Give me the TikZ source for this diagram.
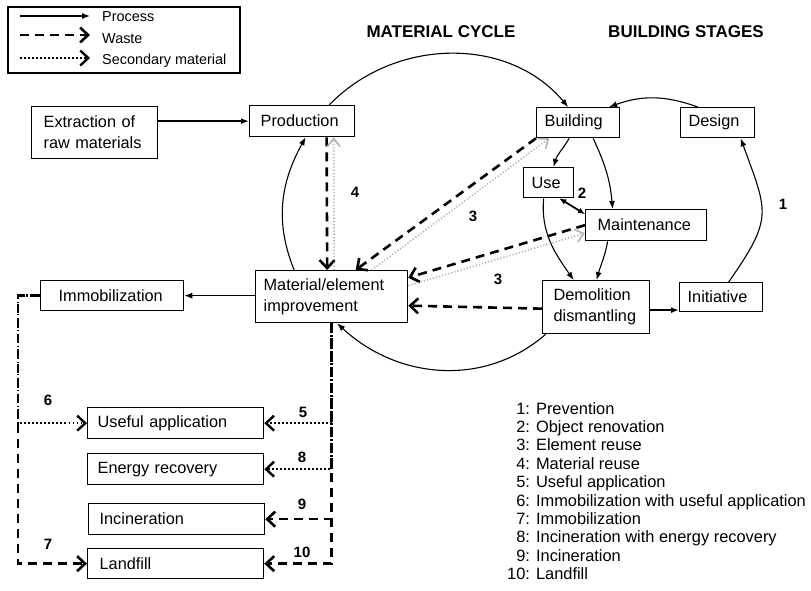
\documentclass[tikz,border=0pt]{standalone}
\usepackage{fontspec}
\setmainfont{Liberation Sans}
\usetikzlibrary{arrows.meta}

\newcommand{\boxfont}{\fontsize{16.3}{21}\selectfont}
\newcommand{\numfont}{\fontsize{15}{18}\selectfont\bfseries}

\tikzset{
  box/.style={draw, line width=1.3pt, anchor=north west, inner ysep=0pt,
    inner xsep=9pt, align=left, font=\boxfont},
  process/.style={line width=1.1pt, -{Latex[length=8pt,width=6pt]}},
  waste/.style={line width=2.6pt, dash pattern=on 9pt off 6pt,
    -{Straight Barb[length=8pt,width=15pt]}},
  secondary/.style={line width=2.4pt, dash pattern=on 1.6pt off 2.4pt,
    -{Straight Barb[length=8pt,width=15pt]}},
  lightsec/.style={line width=1.6pt, black!30, dash pattern=on 1.2pt off 2pt,
    -{Straight Barb[length=8pt,width=13pt]}},
  number/.style={font=\numfont, inner sep=0pt},
  legendtext/.style={anchor=west, inner sep=0pt, font=\fontsize{14.4}{16}\selectfont},
}

\begin{document}
\begin{tikzpicture}[x=1pt, y=-1pt]
  \useasboundingbox (0,0) rectangle (811,590);

  % legend
  \draw[line width=1.2pt] (8,7) rectangle (240,73);
  \node[legendtext] (lgproc) at (102,17) {Process};
  \node[legendtext] (lgwaste) at (102,39) {Waste};
  \node[legendtext] (lgsec) at (102,61) {Secondary material};
  \draw[process] ([xshift=-82pt,yshift=1pt]lgproc.west) -- ([xshift=-12pt,yshift=1pt]lgproc.west);
  \draw[waste] ([xshift=-82pt,yshift=4pt]lgwaste.west) -- ([xshift=-12pt,yshift=4pt]lgwaste.west);
  \draw[secondary] ([xshift=-82pt,yshift=3pt]lgsec.west) -- ([xshift=-12pt,yshift=3pt]lgsec.west);

  % titles
  \node[font=\fontsize{17}{20}\selectfont\bfseries] (tmat) at (441,32) {MATERIAL CYCLE};
  \node[font=\fontsize{17}{20}\selectfont\bfseries] (tbuild) at (686,32) {BUILDING STAGES};

  % material cycle
  \node[box, text width=102pt, minimum height=52pt, inner xsep=12pt] (extr) at (31,106) {Extraction of\\raw materials};
  \node[box, text width=83pt, minimum height=31pt, inner xsep=11pt] (prod) at (249,105) {Production};
  \node[box, text width=136pt, minimum height=52pt, inner xsep=8pt] (matimp) at (255,270) {Material/element\\improvement};
  \node[box, text width=107pt, minimum height=30pt, inner xsep=18pt] (immob) at (40,280) {Immobilization};

  % building stages
  \node[box, text width=67pt, minimum height=30pt, inner xsep=8pt] (build) at (536,107) {Building};
  \node[box, text width=58pt, minimum height=30pt, inner xsep=8pt] (design) at (680,107) {Design};
  \node[box, text width=34pt, minimum height=30pt, inner xsep=8pt] (use) at (523,167) {Use};
  \node[box, text width=97pt, minimum height=31pt, inner xsep=12pt] (maint) at (585,209) {Maintenance};
  \node[box, text width=85pt, minimum height=53pt, inner xsep=11pt] (demol) at (542,280) {Demolition\\dismantling};
  \node[box, text width=67pt, minimum height=29pt, inner xsep=8pt] (init) at (679,282) {Initiative};

  % end of life
  \node[box, text width=156pt, minimum height=31pt, inner xsep=10pt] (useful) at (87,407) {Useful application};
  \node[box, text width=156pt, minimum height=31pt, inner xsep=10pt] (energy) at (87,453) {Energy recovery};
  \node[box, text width=154pt, minimum height=31pt, inner xsep=11pt] (incin) at (88,503) {Incineration};
  \node[box, text width=152pt, minimum height=30pt, inner xsep=12pt] (landfill) at (87,548) {Landfill};

  % process flows
  \draw[process, line width=2pt] ([yshift=11.5pt]extr.east) -- (prod.west);
  \draw[process] ([xshift=27pt]prod.north) to[out=46, in=130] ([xshift=-10pt]build.north);
  \draw[process] ([xshift=-37.5pt]matimp.north) to[out=112, in=241] ([xshift=3.5pt]prod.south);
  \draw[process] ([xshift=-50.5pt]demol.south) to[out=221, in=-43] ([xshift=5.5pt]matimp.south);
  \draw[process] ([yshift=1pt]matimp.west) -- (immob.east);
  \draw[process] ([xshift=-20pt]design.north) to[out=160, in=20] ([xshift=31pt]build.north);
  \draw[process] ([xshift=7.5pt]init.north) to[out=55, in=-70, looseness=1.4] ([xshift=23pt]design.south);
  \draw[process] ([xshift=-9pt]build.south) to[out=-120, in=75] ([xshift=5pt]use.north);
  \draw[process] ([xshift=15pt]build.south) to[out=-65, in=95] ([xshift=-33.5pt]maint.north);
  \draw[process] ([xshift=-5pt]use.south) to[out=-95, in=125] ([xshift=-22.5pt]demol.north);
  \draw[process] ([xshift=-38.5pt]maint.south) to[out=-100, in=75] ([xshift=0.5pt]demol.north);
  \draw[process, line width=1.8pt, {Latex[length=7pt,width=6pt]}-{Latex[length=7pt,width=6pt]}]
    ([xshift=-15pt]use.south east) -- ([yshift=11pt]maint.west);
  \draw[process, line width=2.2pt] ([yshift=-3pt]demol.east) -- ([yshift=-13pt]init.west);

  % waste flows
  \draw[waste] ([xshift=24.5pt]prod.south) -- ([xshift=-4.5pt]matimp.north);
  \draw[waste] (build.south west) -- ([xshift=24pt]matimp.north);
  \draw[waste] (maint.west) -- ([yshift=19pt]matimp.east);
  \draw[waste] ([yshift=-1.5pt]demol.west) -- ([yshift=-9pt]matimp.east);

  % secondary material flows
  \draw[lightsec] ([xshift=2.5pt]matimp.north) -- ([xshift=31.5pt]prod.south);
  \draw[lightsec] ([xshift=40pt]matimp.north) -- ([xshift=-29pt]build.south);
  \draw[lightsec] ([yshift=11pt]matimp.east) -- ([yshift=-8pt]maint.west);

  % end of life routes
  \draw[secondary] (immob.west) -- ++(-22,0) |- (useful.west);
  \draw[waste] (immob.west) -- ++(-22,0) |- (landfill.west);
  \draw[secondary] (matimp.south) |- (useful.east);
  \draw[secondary] (matimp.south) |- (energy.east);
  \draw[waste] (matimp.south) |- (incin.east);
  \draw[waste] (matimp.south) |- (landfill.east);

  % route numbers
  \node[number] (n1) at (783,204) {1};
  \node[number] (n2) at (582,193) {2};
  \node[number] (n3a) at (473,216) {3};
  \node[number] (n3b) at (498,279) {3};
  \node[number] (n4) at (355,192) {4};
  \node[number] (n5) at (303,412) {5};
  \node[number] (n6) at (48,400) {6};
  \node[number] (n7) at (48,544) {7};
  \node[number] (n8) at (302,457) {8};
  \node[number] (n9) at (302,504) {9};
  \node[number] (n10) at (302,552) {10};

  \node[anchor=north west, inner sep=0pt, align=left, font=\fontsize{16.4}{18.4}\selectfont] (codes) at (507,402)
    {\hphantom{0}1: Prevention\\
     \hphantom{0}2: Object renovation\\
     \hphantom{0}3: Element reuse\\
     \hphantom{0}4: Material reuse\\
     \hphantom{0}5: Useful application\\
     \hphantom{0}6: Immobilization with useful application\\
     \hphantom{0}7: Immobilization\\
     \hphantom{0}8: Incineration with energy recovery\\
     \hphantom{0}9: Incineration\\
     10: Landfill};
\end{tikzpicture}
\end{document}
